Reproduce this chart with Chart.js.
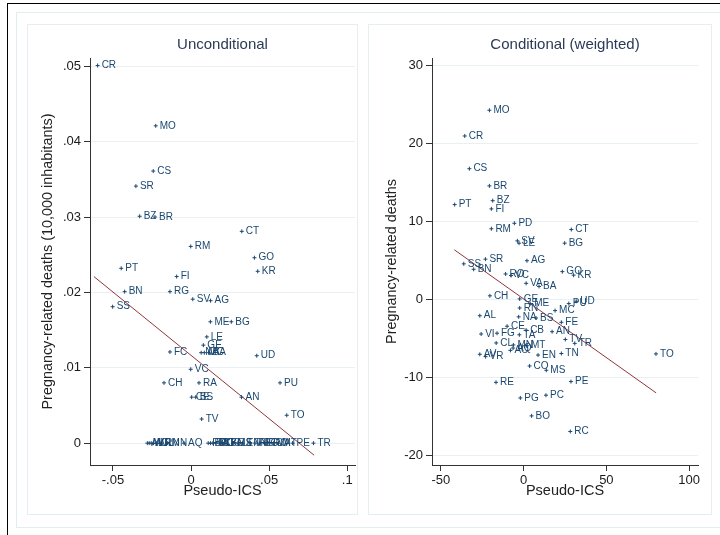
<!DOCTYPE html>
<html>
<head>
<meta charset="utf-8">
<script src="https://cdn.jsdelivr.net/npm/chart.js@4"></script>
<style>
  html,body{margin:0;padding:0;background:#fff;width:720px;height:535px;overflow:hidden;}
  .frame{position:absolute;box-sizing:border-box;}
  canvas{position:absolute;top:0;}
</style>
</head>
<body>
<div class="frame" style="left:7px;top:3px;width:730px;height:545px;border:1px solid #000;"></div>
<div class="frame" style="left:16px;top:12px;width:720px;height:516px;border:1px solid #e3ecef;"></div>
<div class="frame" style="left:27px;top:24px;width:331px;height:491px;border:1px solid #e6eef1;"></div>
<div class="frame" style="left:368px;top:24px;width:344px;height:491px;border:1px solid #e6eef1;"></div>
<canvas id="c1" width="360" height="535" style="left:0px;"></canvas>
<canvas id="c2" width="360" height="535" style="left:360px;"></canvas>
<script>
// ---------- data: left panel (Unconditional) ----------
const leftLabels = ['CR','MO','CS','SR','BZ','BR','CT','RM','GO','KR','PT','FI','BN','RG','SV','AG','SS','ME','BG','LE','GE','NA','MC','BA','FC','UD','VC','CH','RA','PU','CE','BS','AN','TO','TV',
  'AL','VI','AV','VR','CL','RN','MN','AQ','PD','BO','TA','PC','CB','CO','FE','MS','LT','EN','TN','RE','PG','RC','RO','VA','MT','PE','TR'];
const leftX = [-0.0598,-0.0226,-0.0242,-0.0353,-0.0329,-0.0231,0.0325,-0.0002,0.0406,0.0427,-0.0447,-0.0092,-0.0425,-0.0135,0.0011,0.0125,-0.0502,0.0124,0.0258,0.0101,0.0079,0.0065,0.0085,0.0112,-0.0135,0.0421,-0.0002,-0.0173,0.0051,0.0570,0.0004,0.0030,0.0323,0.0613,0.0068,
  -0.0280,-0.0268,-0.0255,-0.0240,-0.0220,-0.0190,-0.0150,-0.0045,0.0110,0.0125,0.0140,0.0160,0.0180,0.0200,0.0230,0.0270,0.0300,0.0330,0.0380,0.0410,0.0440,0.0470,0.0500,0.0530,0.0560,0.0650,0.0784];
const leftY = [0.0501,0.0421,0.0361,0.0341,0.0301,0.0300,0.0281,0.0261,0.0246,0.0228,0.0232,0.0221,0.0201,0.0201,0.0191,0.0189,0.0181,0.0161,0.0161,0.0141,0.0130,0.0120,0.0120,0.0120,0.0121,0.0116,0.0098,0.0080,0.0080,0.0080,0.0061,0.0061,0.0061,0.0037,0.0032,
  0,0,0,0,0,0,0,0,0,0,0,0,0,0,0,0,0,0,0,0,0,0,0,0,0,0,0];
const leftFitX = [-0.0622, 0.0788];
const leftFitY = [0.0221, -0.0016];
const leftXTicks = [-0.05, 0, 0.05, 0.1];
const leftXTickLabels = ['-.05', '0', '.05', '.1'];
const leftYTicks = [0, 0.01, 0.02, 0.03, 0.04, 0.05];
const leftYTickLabels = ['0', '.01', '.02', '.03', '.04', '.05'];

// ---------- data: right panel (Conditional, weighted) ----------
const rightLabels = ['MO','CR','CS','BR','BZ','FI','PT','RM','PD','CT','SV','LE','BG','SR','AG','SS','BN','RO','VC','GO','KR','VA','BA','CH','GE','RN','ME','MC','PU','UD','AL','NA','BS','FE','CE','VI','FG','TA','CB','AN','TV','TR','TO','CL','MN','MT','EN','TN','AV','VR','AO','AQ','CO','MS','RE','PE','PG','PC','BO','RC'];
const rightX = [-20.7,-35.6,-32.8,-20.7,-18.7,-19.5,-41.7,-19.5,-5.6,28.8,-3.8,-2.8,24.8,-23.1,2.0,-36.2,-30.2,-10.9,-7.6,23.4,30.2,1.5,9.3,-20.4,-2.4,-2.4,4.0,19.0,27.3,31.8,-26.5,-3.0,7.5,22.8,-10.0,-25.7,-16.1,-2.6,1.5,17.2,25.2,30.9,80.0,-16.6,-6.2,2.0,8.7,22.8,-26.5,-23.0,-8.0,-6.4,3.6,13.7,-16.7,28.6,-2.0,13.5,4.8,28.2];
const rightY = [24.3,21.0,16.8,14.6,12.7,11.65,12.2,9.1,9.8,9.0,7.55,7.25,7.25,5.2,5.0,4.6,3.9,3.3,3.1,3.6,3.15,2.1,1.7,0.5,0.1,-1.06,-0.5,-1.4,-0.5,-0.2,-2.05,-2.2,-2.35,-2.9,-3.4,-4.4,-4.3,-4.5,-3.9,-4.1,-5.1,-5.6,-6.95,-5.55,-5.8,-5.9,-7.1,-6.9,-7.0,-7.3,-6.5,-6.2,-8.5,-9.05,-10.6,-10.5,-12.6,-12.25,-14.9,-16.9];
const rightFitX = [-41.9, 80.1];
const rightFitY = [6.4, -11.95];
const rightXTicks = [-50, 0, 50, 100];
const rightXTickLabels = ['-50', '0', '50', '100'];
const rightYTicks = [-20, -10, 0, 10, 20, 30];
const rightYTickLabels = ['-20', '-10', '0', '10', '20', '30'];

const FONT = '"Liberation Sans", Arial, sans-serif';
const NAVY = '#1a476f';

const textPlugin = {
  id: 'stataText',
  afterDatasetsDraw(chart, args, opts) {
    const ctx = chart.ctx;
    const meta = chart.getDatasetMeta(0);
    ctx.save();
    ctx.font = '10px ' + FONT;
    ctx.fillStyle = NAVY;
    ctx.textBaseline = 'middle';
    ctx.textAlign = 'left';
    meta.data.forEach((pt, i) => {
      ctx.fillText(opts.labels[i], pt.x + 4, pt.y);
    });
    ctx.restore();
  },
  afterDraw(chart, args, opts) {
    const ctx = chart.ctx;
    const a = chart.chartArea;
    const cx = (a.left + a.right) / 2;
    ctx.save();
    ctx.textAlign = 'center';
    ctx.textBaseline = 'middle';
    ctx.fillStyle = '#2b3a55';
    ctx.font = '15px ' + FONT;
    ctx.fillText(opts.title, cx, 45);
    ctx.fillStyle = '#222';
    ctx.font = '14.5px ' + FONT;
    ctx.fillText(opts.xTitle, cx, 491);
    ctx.translate(opts.yTitleX, (a.top + a.bottom) / 2);
    ctx.rotate(-Math.PI / 2);
    ctx.font = '14.4px ' + FONT;
    ctx.fillText(opts.yTitle, 0, 0);
    ctx.restore();
  }
};

function makeChart(id, cfg) {
  const pts = cfg.xs.map((x, i) => ({x: x, y: cfg.ys[i]}));
  const fit = cfg.fitX.map((x, i) => ({x: x, y: cfg.fitY[i]}));
  return new Chart(document.getElementById(id), {
    type: 'scatter',
    data: {
      datasets: [
        {data: pts, pointStyle: 'cross', pointRadius: 2, borderColor: NAVY, backgroundColor: NAVY, borderWidth: 1},
        {type: 'line', data: fit, borderColor: '#90353b', borderWidth: 1, pointRadius: 0, fill: false}
      ]
    },
    options: {
      responsive: false,
      animation: false,
      devicePixelRatio: 1,
      layout: {padding: cfg.padding},
      plugins: {
        legend: {display: false},
        tooltip: {enabled: false},
        title: {display: false},
        stataText: {labels: cfg.labels, title: cfg.title, xTitle: 'Pseudo-ICS', yTitle: cfg.yTitle, yTitleX: cfg.yTitleX}
      },
      scales: {
        x: {
          type: 'linear', min: cfg.xMin, max: cfg.xMax,
          afterBuildTicks: s => { s.ticks = cfg.xTicks.map(v => ({value: v})); },
          afterFit: s => { s.height = 30; },
          ticks: {autoSkip: false, maxRotation: 0, padding: 2, color: '#1a1a1a', font: {family: FONT, size: 13},
                  callback: (v, i) => cfg.xTickLabels[i]},
          grid: {drawOnChartArea: false, drawTicks: true, tickLength: 6, tickColor: '#333'},
          border: {display: true, color: '#333', width: 1}
        },
        y: {
          type: 'linear', min: cfg.yMin, max: cfg.yMax,
          afterBuildTicks: s => { s.ticks = cfg.yTicks.map(v => ({value: v})); },
          afterFit: s => { s.width = cfg.yWidth; },
          ticks: {autoSkip: false, padding: 3, color: '#1a1a1a', font: {family: FONT, size: 13},
                  callback: (v, i) => cfg.yTickLabels[i]},
          grid: {color: '#e8f0f2', lineWidth: 1, drawTicks: true, tickLength: 6, tickColor: '#333'},
          border: {display: true, color: '#333', width: 1}
        }
      }
    },
    plugins: [textPlugin]
  });
}

makeChart('c1', {
  labels: leftLabels, xs: leftX, ys: leftY, fitX: leftFitX, fitY: leftFitY,
  xTicks: leftXTicks, xTickLabels: leftXTickLabels, yTicks: leftYTicks, yTickLabels: leftYTickLabels,
  xMin: -0.0647, xMax: 0.105, yMin: -0.0029, yMax: 0.0511,
  padding: {left: 0, top: 58, right: 5, bottom: 40}, yWidth: 90,
  title: 'Unconditional', yTitle: 'Pregnancy-related deaths (10,000 inhabitants)', yTitleX: 48
});
makeChart('c2', {
  labels: rightLabels, xs: rightX, ys: rightY, fitX: rightFitX, fitY: rightFitY,
  xTicks: rightXTicks, xTickLabels: rightXTickLabels, yTicks: rightYTicks, yTickLabels: rightYTickLabels,
  xMin: -55.4, xMax: 105.4, yMin: -21.2, yMax: 31.0,
  padding: {left: 0, top: 58, right: 22, bottom: 40}, yWidth: 72,
  title: 'Conditional (weighted)', yTitle: 'Pregnancy-related deaths', yTitleX: 32
});
</script>
</body>
</html>
